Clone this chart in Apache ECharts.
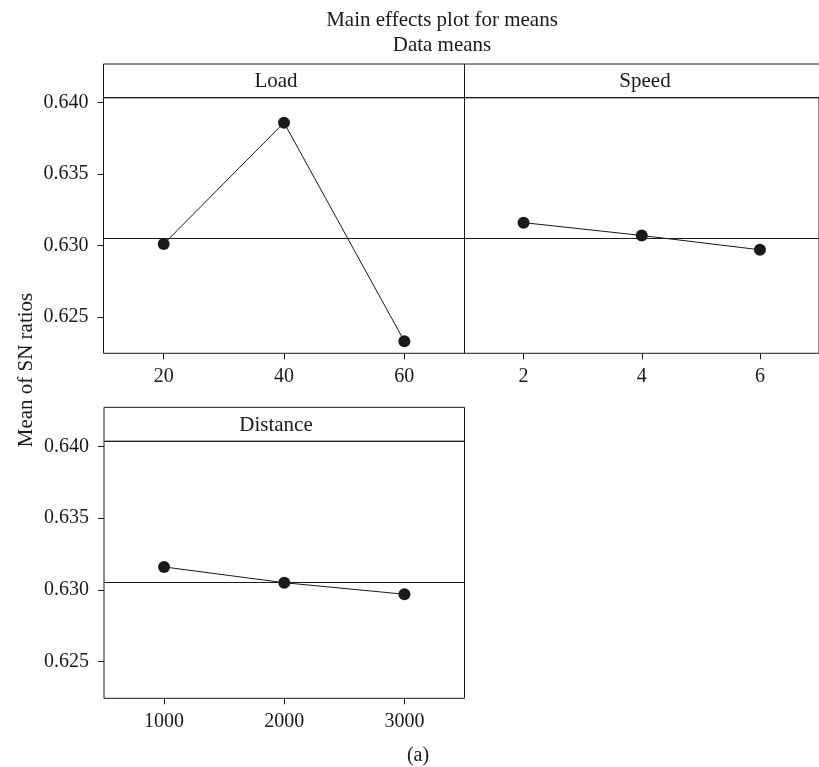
<!DOCTYPE html>
<html>
<head>
<meta charset="utf-8">
<script src="https://cdn.jsdelivr.net/npm/echarts@6/dist/echarts.min.js"></script>
<style>
  html, body { margin: 0; padding: 0; background: #fff; }
  #main { width: 819px; height: 767px; }
</style>
</head>
<body>
<div id="main"></div>
<script>
var loadLevels = [20, 40, 60];
var loadMeans = [0.6301, 0.6386, 0.6233];
var speedLevels = [2, 4, 6];
var speedMeans = [0.6316, 0.6307, 0.6297];
var distLevels = [1000, 2000, 3000];
var distMeans = [0.6316, 0.6305, 0.6297];
var grandMean = 0.6305;
var yTicks = [0.625, 0.630, 0.635, 0.640];

var FONT = '"Liberation Serif", "DejaVu Serif", serif';
var INK = '#1a1a1a';

function pairs(xs, ys) {
  var out = [];
  for (var i = 0; i < xs.length; i++) out.push([xs[i], ys[i]]);
  return out;
}

function xAxisFor(idx, levels, min, max) {
  return {
    type: 'value', gridIndex: idx, min: min, max: max,
    axisLine: { show: false },
    splitLine: { show: false },
    axisTick: { show: true, customValues: levels, length: 6, lineStyle: { color: INK, width: 1 } },
    axisLabel: {
      customValues: levels, margin: 13, color: INK, fontFamily: FONT, fontSize: 20,
      formatter: function (v) { return String(v); }
    }
  };
}

function yAxisFor(idx, showLabels) {
  return {
    type: 'value', gridIndex: idx, min: 0.62245, max: 0.64035,
    axisLine: { show: false },
    splitLine: { show: false },
    axisTick: { show: showLabels, customValues: yTicks, length: 6, lineStyle: { color: INK, width: 1 } },
    axisLabel: {
      show: showLabels, customValues: yTicks, margin: 15, color: INK, fontFamily: FONT, fontSize: 20,
      formatter: function (v) { return v.toFixed(3); }
    }
  };
}

function seriesFor(idx, xs, ys) {
  return {
    type: 'line', xAxisIndex: idx, yAxisIndex: idx,
    data: pairs(xs, ys),
    symbol: 'circle', symbolSize: 12,
    itemStyle: { color: INK },
    lineStyle: { color: INK, width: 1 },
    animation: false,
    markLine: {
      silent: true, symbol: 'none', precision: 5, label: { show: false },
      lineStyle: { color: INK, width: 1, type: 'solid' },
      data: [{ yAxis: grandMean }]
    }
  };
}

var gridStyle = { show: true, borderColor: INK, borderWidth: 1, backgroundColor: 'transparent' };

var chart = echarts.init(document.getElementById('main'));
var option = {
  backgroundColor: '#fff',
  animation: false,
  grid: [
    Object.assign({ left: 103.5, top: 97.7, width: 361, height: 255.6 }, gridStyle),
    Object.assign({ left: 464.5, top: 97.7, width: 357, height: 255.6 }, gridStyle),
    Object.assign({ left: 104, top: 441.3, width: 360.5, height: 257 }, gridStyle)
  ],
  xAxis: [
    xAxisFor(0, loadLevels, 10, 70),
    xAxisFor(1, speedLevels, 1, 7),
    xAxisFor(2, distLevels, 500, 3500)
  ],
  yAxis: [yAxisFor(0, true), yAxisFor(1, false), yAxisFor(2, true)],
  series: [
    seriesFor(0, loadLevels, loadMeans),
    seriesFor(1, speedLevels, speedMeans),
    seriesFor(2, distLevels, distMeans)
  ],
  graphic: [
    // panel header strips
    { type: 'rect', shape: { x: 103.5, y: 64, width: 361, height: 33.7 }, style: { fill: 'none', stroke: INK, lineWidth: 1 } },
    { type: 'rect', shape: { x: 464.5, y: 64, width: 357, height: 33.7 }, style: { fill: 'none', stroke: INK, lineWidth: 1 } },
    { type: 'rect', shape: { x: 104, y: 407.3, width: 360.5, height: 34 }, style: { fill: 'none', stroke: INK, lineWidth: 1 } },
    { type: 'text', x: 276, y: 81, style: { text: 'Load', font: '21px ' + FONT, fill: INK, textAlign: 'center', textVerticalAlign: 'middle' } },
    { type: 'text', x: 645, y: 81, style: { text: 'Speed', font: '21px ' + FONT, fill: INK, textAlign: 'center', textVerticalAlign: 'middle' } },
    { type: 'text', x: 276, y: 425, style: { text: 'Distance', font: '21px ' + FONT, fill: INK, textAlign: 'center', textVerticalAlign: 'middle' } },
    // titles
    { type: 'text', x: 442, y: 20, style: { text: 'Main effects plot for means', font: '21px ' + FONT, fill: INK, textAlign: 'center', textVerticalAlign: 'middle' } },
    { type: 'text', x: 442, y: 45, style: { text: 'Data means', font: '21px ' + FONT, fill: INK, textAlign: 'center', textVerticalAlign: 'middle' } },
    { type: 'text', x: 26, y: 370, rotation: Math.PI / 2, style: { text: 'Mean of SN ratios', font: '21px ' + FONT, fill: INK, textAlign: 'center', textVerticalAlign: 'middle' } },
    { type: 'text', x: 418, y: 756, style: { text: '(a)', font: '20px ' + FONT, fill: INK, textAlign: 'center', textVerticalAlign: 'middle' } }
  ]
};
chart.setOption(option);
</script>
</body>
</html>
